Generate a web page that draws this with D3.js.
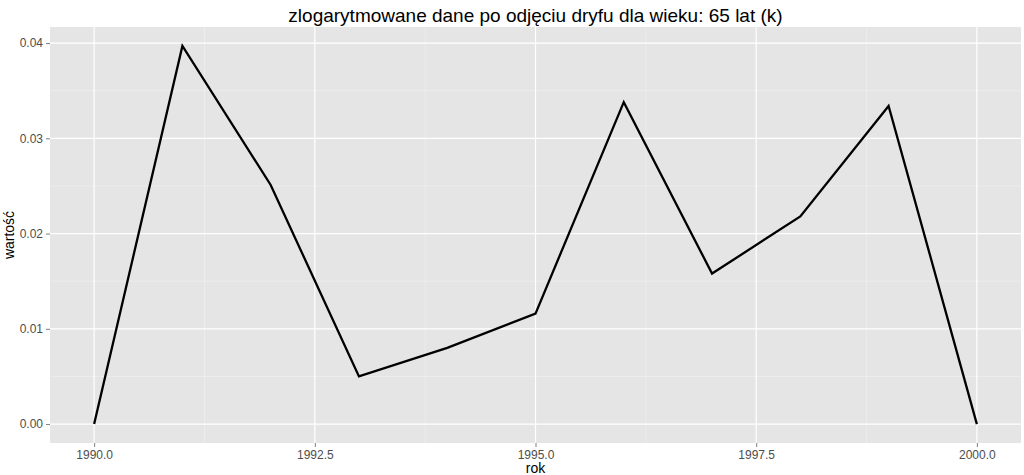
<!DOCTYPE html>
<html><head><meta charset="utf-8">
<script src="https://cdn.jsdelivr.net/npm/d3@7"></script>
<style>body{margin:0;background:#fff}text{font-family:"Liberation Sans",Arial,sans-serif}</style>
</head><body>
<script>
var years = [1990, 1991, 1992, 1993, 1994, 1995, 1996, 1997, 1998, 1999, 2000];
var values = [0, 0.0397, 0.0251, 0.0050, 0.0080, 0.0116, 0.0338, 0.0158, 0.0218, 0.0334, 0];
var xTicks = [1990, 1992.5, 1995, 1997.5, 2000];
var yTicks = [0, 0.01, 0.02, 0.03, 0.04];

var width = 1024, height = 475;
var pLeft = 50, pRight = 1021, pTop = 27, pBottom = 443;

var svg = d3.select("body").append("svg")
    .attr("width", width)
    .attr("height", height);

var x = d3.scaleLinear().domain([1989.5, 2000.5]).range([pLeft, pRight]);
var y = d3.scaleLinear().domain([-0.0019865, 0.0416865]).range([pBottom, pTop]);

svg.append("rect").attr("x", pLeft).attr("y", pTop)
    .attr("width", pRight - pLeft).attr("height", pBottom - pTop).attr("fill", "#e5e5e5");

// minor grid
var xMinor = [1991.25, 1993.75, 1996.25, 1998.75];
var yMinor = [0.005, 0.015, 0.025, 0.035];
svg.selectAll(".xm").data(xMinor).enter().append("line")
    .attr("x1", x).attr("x2", x).attr("y1", pTop).attr("y2", pBottom)
    .attr("stroke", "#f2f2f2").attr("stroke-width", 0.6);
svg.selectAll(".ym").data(yMinor).enter().append("line")
    .attr("y1", y).attr("y2", y).attr("x1", pLeft).attr("x2", pRight)
    .attr("stroke", "#f2f2f2").attr("stroke-width", 0.6);
svg.selectAll(".xg").data(xTicks).enter().append("line")
    .attr("x1", x).attr("x2", x).attr("y1", pTop).attr("y2", pBottom)
    .attr("stroke", "#fff").attr("stroke-width", 1.2);
svg.selectAll(".yg").data(yTicks).enter().append("line")
    .attr("y1", y).attr("y2", y).attr("x1", pLeft).attr("x2", pRight)
    .attr("stroke", "#fff").attr("stroke-width", 1.2);

var xAxis = svg.append("g").attr("transform", "translate(0," + pBottom + ")")
    .call(d3.axisBottom(x).tickValues(xTicks).tickFormat(d3.format(".1f")).tickSize(4));
var yAxis = svg.append("g").attr("transform", "translate(" + pLeft + ",0)")
    .call(d3.axisLeft(y).tickValues(yTicks).tickFormat(d3.format(".2f")).tickSize(4));
[xAxis, yAxis].forEach(function (a) {
    a.select(".domain").remove();
    a.selectAll("line").attr("stroke", "#7f7f7f");
    a.selectAll("text").attr("fill", "#4d4d4d").style("font-size", "12px");
});

var line = d3.line().x(function (d, i) { return x(years[i]); }).y(function (d) { return y(d); });
svg.append("path").datum(values).attr("d", line)
    .attr("fill", "none").attr("stroke", "#000").attr("stroke-width", 2.3);

svg.append("text").attr("x", (pLeft + pRight) / 2).attr("y", 22).attr("text-anchor", "middle")
    .style("font-size", "19px").text("zlogarytmowane dane po odjęciu dryfu dla wieku: 65 lat (k)");
svg.append("text").attr("x", (pLeft + pRight) / 2).attr("y", 473).attr("text-anchor", "middle")
    .style("font-size", "14px").text("rok");
svg.append("text").attr("transform", "translate(14," + (pTop + pBottom) / 2 + ") rotate(-90)")
    .attr("text-anchor", "middle").style("font-size", "14px").text("wartość");
</script>
</body></html>
